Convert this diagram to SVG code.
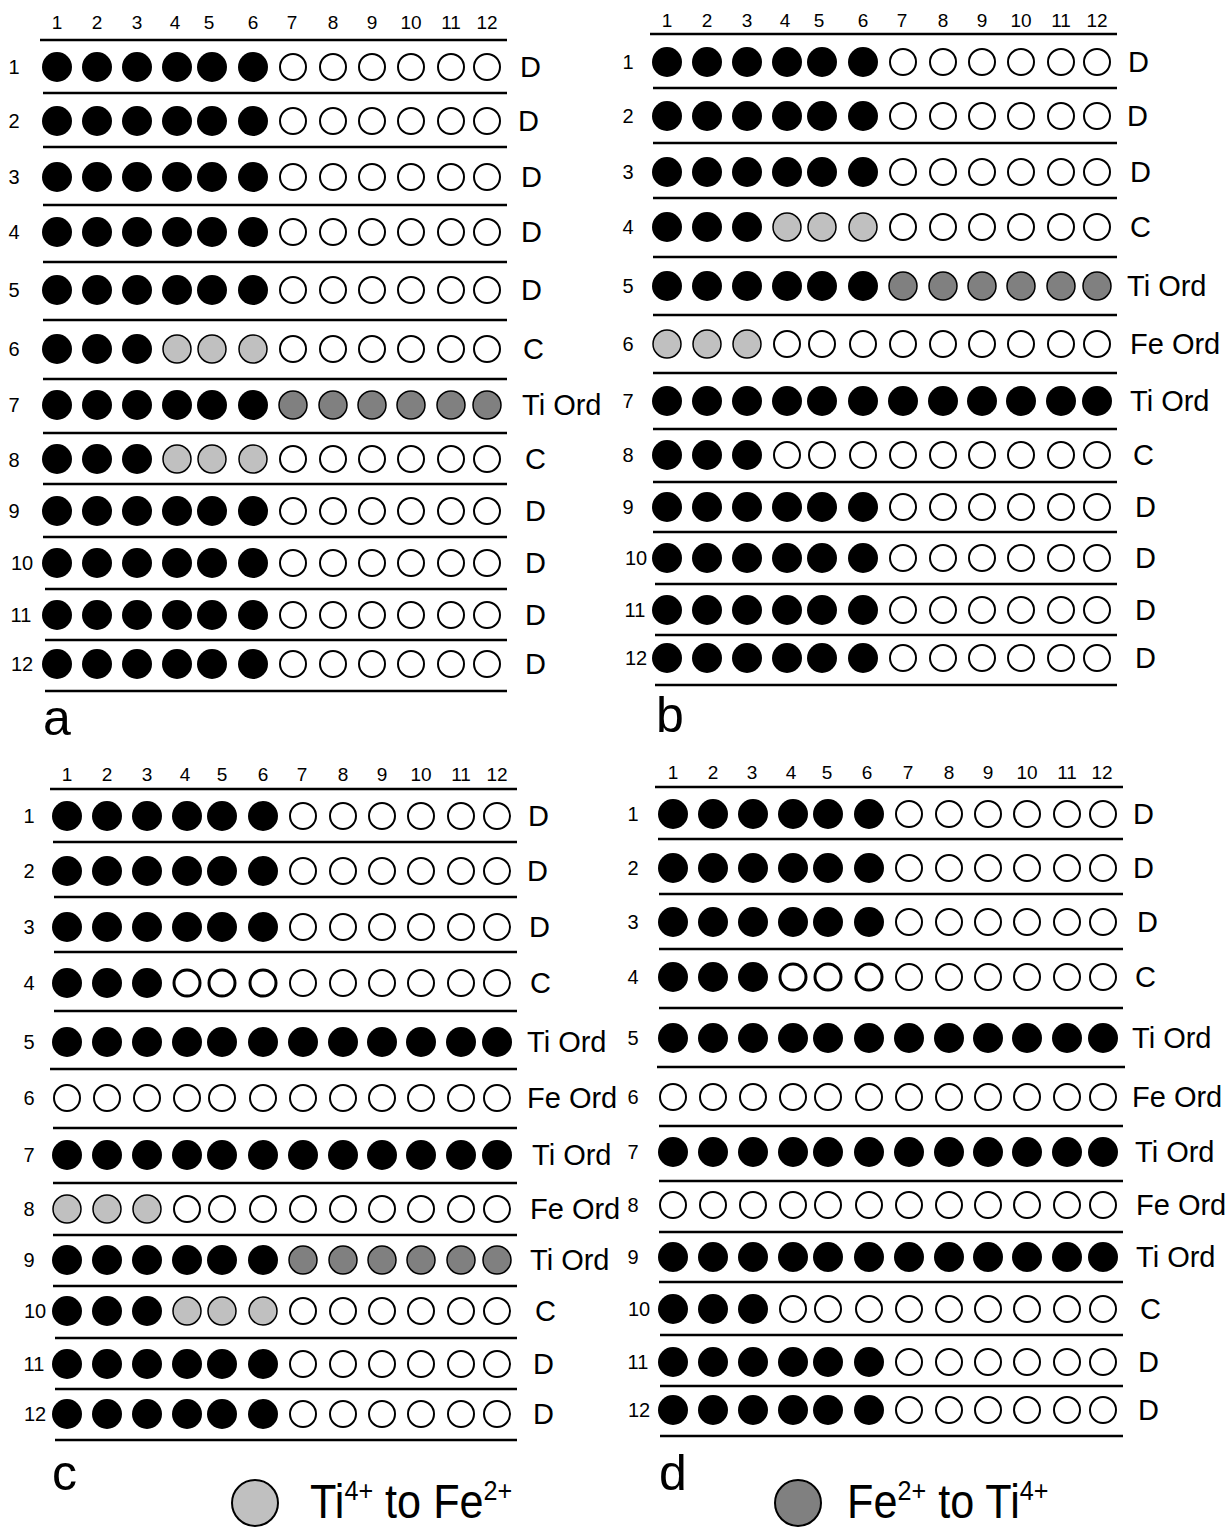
<svg xmlns="http://www.w3.org/2000/svg" xmlns:xlink="http://www.w3.org/1999/xlink" width="1228" height="1528" viewBox="0 0 1228 1528">
<style>
text{font-family:"Liberation Sans",Arial,sans-serif;fill:#000}
.hd{font-size:19px;text-anchor:middle}
.rn{font-size:20px;text-anchor:middle}
.lb{font-size:29px}
.pl{font-size:50px}
.lg{font-size:48px}
.ln{stroke:#000;stroke-width:2.5}
.b{fill:#000}
.w{fill:#fff;stroke:#000;stroke-width:2}
.l{fill:#c0c0c0;stroke:#000;stroke-width:1.5}
.g{fill:#808080;stroke:#000;stroke-width:1.5}
.t{fill:#fff;stroke:#000;stroke-width:3}
</style>
<defs>
<circle id="B" r="15" class="b"/>
<circle id="W" r="13" class="w"/>
<circle id="L" r="14" class="l"/>
<circle id="G" r="14" class="g"/>
<circle id="T" r="13" class="t"/>
<g id="rowD"><use href="#B" x="57"/><use href="#B" x="97"/><use href="#B" x="137"/><use href="#B" x="177"/><use href="#B" x="212"/><use href="#B" x="253"/><use href="#W" x="293"/><use href="#W" x="333"/><use href="#W" x="372"/><use href="#W" x="411"/><use href="#W" x="451"/><use href="#W" x="487"/></g>
<g id="rowC"><use href="#B" x="57"/><use href="#B" x="97"/><use href="#B" x="137"/><use href="#L" x="177"/><use href="#L" x="212"/><use href="#L" x="253"/><use href="#W" x="293"/><use href="#W" x="333"/><use href="#W" x="372"/><use href="#W" x="411"/><use href="#W" x="451"/><use href="#W" x="487"/></g>
<g id="rowTG"><use href="#B" x="57"/><use href="#B" x="97"/><use href="#B" x="137"/><use href="#B" x="177"/><use href="#B" x="212"/><use href="#B" x="253"/><use href="#G" x="293"/><use href="#G" x="333"/><use href="#G" x="372"/><use href="#G" x="411"/><use href="#G" x="451"/><use href="#G" x="487"/></g>
<g id="rowTB"><use href="#B" x="57"/><use href="#B" x="97"/><use href="#B" x="137"/><use href="#B" x="177"/><use href="#B" x="212"/><use href="#B" x="253"/><use href="#B" x="293"/><use href="#B" x="333"/><use href="#B" x="372"/><use href="#B" x="411"/><use href="#B" x="451"/><use href="#B" x="487"/></g>
<g id="rowFW"><use href="#W" x="57"/><use href="#W" x="97"/><use href="#W" x="137"/><use href="#W" x="177"/><use href="#W" x="212"/><use href="#W" x="253"/><use href="#W" x="293"/><use href="#W" x="333"/><use href="#W" x="372"/><use href="#W" x="411"/><use href="#W" x="451"/><use href="#W" x="487"/></g>
<g id="rowFL"><use href="#L" x="57"/><use href="#L" x="97"/><use href="#L" x="137"/><use href="#W" x="177"/><use href="#W" x="212"/><use href="#W" x="253"/><use href="#W" x="293"/><use href="#W" x="333"/><use href="#W" x="372"/><use href="#W" x="411"/><use href="#W" x="451"/><use href="#W" x="487"/></g>
<g id="rowC9"><use href="#B" x="57"/><use href="#B" x="97"/><use href="#B" x="137"/><use href="#W" x="177"/><use href="#W" x="212"/><use href="#W" x="253"/><use href="#W" x="293"/><use href="#W" x="333"/><use href="#W" x="372"/><use href="#W" x="411"/><use href="#W" x="451"/><use href="#W" x="487"/></g>
<g id="rowCT"><use href="#B" x="57"/><use href="#B" x="97"/><use href="#B" x="137"/><use href="#T" x="177"/><use href="#T" x="212"/><use href="#T" x="253"/><use href="#W" x="293"/><use href="#W" x="333"/><use href="#W" x="372"/><use href="#W" x="411"/><use href="#W" x="451"/><use href="#W" x="487"/></g>
</defs>
<rect width="1228" height="1528" fill="#fff"/>

<!-- Panel a -->
<g id="panel-a">
<g id="a-header">
<text class="hd" x="57" y="29">1</text><text class="hd" x="97" y="29">2</text><text class="hd" x="137" y="29">3</text><text class="hd" x="175" y="29">4</text><text class="hd" x="209" y="29">5</text><text class="hd" x="253" y="29">6</text><text class="hd" x="292" y="29">7</text><text class="hd" x="333" y="29">8</text><text class="hd" x="372" y="29">9</text><text class="hd" x="411" y="29">10</text><text class="hd" x="451" y="29">11</text><text class="hd" x="487" y="29">12</text>
</g>
<g id="a-lines">
<line class="ln" x1="40" y1="40" x2="507" y2="40"/>
<line class="ln" x1="43" y1="93" x2="507" y2="93"/>
<line class="ln" x1="43" y1="147" x2="507" y2="147"/>
<line class="ln" x1="43" y1="205" x2="507" y2="205"/>
<line class="ln" x1="43" y1="262" x2="507" y2="262"/>
<line class="ln" x1="43" y1="320" x2="507" y2="320"/>
<line class="ln" x1="43" y1="379" x2="507" y2="379"/>
<line class="ln" x1="43" y1="433" x2="507" y2="433"/>
<line class="ln" x1="43" y1="484" x2="507" y2="484"/>
<line class="ln" x1="43" y1="537" x2="507" y2="537"/>
<line class="ln" x1="45" y1="589" x2="507" y2="589"/>
<line class="ln" x1="45" y1="640" x2="507" y2="640"/>
<line class="ln" x1="45" y1="691" x2="507" y2="691"/>
</g>
<g id="a-r1"><text class="rn" x="14" y="74">1</text><use href="#rowD" y="67"/><text class="lb" x="520" y="77">D</text></g>
<g id="a-r2"><text class="rn" x="14" y="128">2</text><use href="#rowD" y="121"/><text class="lb" x="518" y="131">D</text></g>
<g id="a-r3"><text class="rn" x="14" y="184">3</text><use href="#rowD" y="177"/><text class="lb" x="521" y="187">D</text></g>
<g id="a-r4"><text class="rn" x="14" y="239">4</text><use href="#rowD" y="232"/><text class="lb" x="521" y="242">D</text></g>
<g id="a-r5"><text class="rn" x="14" y="297">5</text><use href="#rowD" y="290"/><text class="lb" x="521" y="300">D</text></g>
<g id="a-r6"><text class="rn" x="14" y="356">6</text><use href="#rowC" y="349"/><text class="lb" x="523" y="359">C</text></g>
<g id="a-r7"><text class="rn" x="14" y="412">7</text><use href="#rowTG" y="405"/><text class="lb" x="522" y="415">Ti Ord</text></g>
<g id="a-r8"><text class="rn" x="14" y="467">8</text><use href="#rowC" y="459"/><text class="lb" x="525" y="469">C</text></g>
<g id="a-r9"><text class="rn" x="14" y="518">9</text><use href="#rowD" y="511"/><text class="lb" x="525" y="521">D</text></g>
<g id="a-r10"><text class="rn" x="22" y="570">10</text><use href="#rowD" y="563"/><text class="lb" x="525" y="573">D</text></g>
<g id="a-r11"><text class="rn" x="21" y="622">11</text><use href="#rowD" y="615"/><text class="lb" x="525" y="625">D</text></g>
<g id="a-r12"><text class="rn" x="22" y="671">12</text><use href="#rowD" y="664"/><text class="lb" x="525" y="674">D</text></g>
<text class="pl" x="43" y="735">a</text>
</g>

<!-- Panel b -->
<g id="panel-b">
<g id="b-header">
<text class="hd" x="667" y="27">1</text><text class="hd" x="707" y="27">2</text><text class="hd" x="747" y="27">3</text><text class="hd" x="785" y="27">4</text><text class="hd" x="819" y="27">5</text><text class="hd" x="863" y="27">6</text><text class="hd" x="902" y="27">7</text><text class="hd" x="943" y="27">8</text><text class="hd" x="982" y="27">9</text><text class="hd" x="1021" y="27">10</text><text class="hd" x="1061" y="27">11</text><text class="hd" x="1097" y="27">12</text>
</g>
<g id="b-lines">
<line class="ln" x1="650" y1="34" x2="1117" y2="34"/>
<line class="ln" x1="653" y1="88" x2="1117" y2="88"/>
<line class="ln" x1="653" y1="143" x2="1117" y2="143"/>
<line class="ln" x1="653" y1="198" x2="1117" y2="198"/>
<line class="ln" x1="653" y1="257" x2="1117" y2="257"/>
<line class="ln" x1="653" y1="315" x2="1117" y2="315"/>
<line class="ln" x1="653" y1="373" x2="1117" y2="373"/>
<line class="ln" x1="653" y1="429" x2="1117" y2="429"/>
<line class="ln" x1="653" y1="482" x2="1117" y2="482"/>
<line class="ln" x1="653" y1="532" x2="1117" y2="532"/>
<line class="ln" x1="655" y1="584" x2="1117" y2="584"/>
<line class="ln" x1="655" y1="635" x2="1117" y2="635"/>
<line class="ln" x1="655" y1="685" x2="1117" y2="685"/>
</g>
<g id="b-r1"><text class="rn" x="628" y="69">1</text><use href="#rowD" x="610" y="62"/><text class="lb" x="1128" y="72">D</text></g>
<g id="b-r2"><text class="rn" x="628" y="123">2</text><use href="#rowD" x="610" y="116"/><text class="lb" x="1127" y="126">D</text></g>
<g id="b-r3"><text class="rn" x="628" y="179">3</text><use href="#rowD" x="610" y="172"/><text class="lb" x="1130" y="182">D</text></g>
<g id="b-r4"><text class="rn" x="628" y="234">4</text><use href="#rowC" x="610" y="227"/><text class="lb" x="1130" y="237">C</text></g>
<g id="b-r5"><text class="rn" x="628" y="293">5</text><use href="#rowTG" x="610" y="286"/><text class="lb" x="1127" y="296">Ti Ord</text></g>
<g id="b-r6"><text class="rn" x="628" y="351">6</text><use href="#rowFL" x="610" y="344"/><text class="lb" x="1130" y="354">Fe Ord</text></g>
<g id="b-r7"><text class="rn" x="628" y="408">7</text><use href="#rowTB" x="610" y="401"/><text class="lb" x="1130" y="411">Ti Ord</text></g>
<g id="b-r8"><text class="rn" x="628" y="462">8</text><use href="#rowC9" x="610" y="455"/><text class="lb" x="1133" y="465">C</text></g>
<g id="b-r9"><text class="rn" x="628" y="514">9</text><use href="#rowD" x="610" y="507"/><text class="lb" x="1135" y="517">D</text></g>
<g id="b-r10"><text class="rn" x="636" y="565">10</text><use href="#rowD" x="610" y="558"/><text class="lb" x="1135" y="568">D</text></g>
<g id="b-r11"><text class="rn" x="635" y="617">11</text><use href="#rowD" x="610" y="610"/><text class="lb" x="1135" y="620">D</text></g>
<g id="b-r12"><text class="rn" x="636" y="665">12</text><use href="#rowD" x="610" y="658"/><text class="lb" x="1135" y="668">D</text></g>
<text class="pl" x="656" y="732">b</text>
</g>

<!-- Panel c -->
<g id="panel-c">
<g id="c-header">
<text class="hd" x="67" y="781">1</text><text class="hd" x="107" y="781">2</text><text class="hd" x="147" y="781">3</text><text class="hd" x="185" y="781">4</text><text class="hd" x="222" y="781">5</text><text class="hd" x="263" y="781">6</text><text class="hd" x="302" y="781">7</text><text class="hd" x="343" y="781">8</text><text class="hd" x="382" y="781">9</text><text class="hd" x="421" y="781">10</text><text class="hd" x="461" y="781">11</text><text class="hd" x="497" y="781">12</text>
</g>
<g id="c-lines">
<line class="ln" x1="50" y1="789" x2="517" y2="789"/>
<line class="ln" x1="53" y1="842" x2="517" y2="842"/>
<line class="ln" x1="54" y1="897" x2="517" y2="897"/>
<line class="ln" x1="54" y1="952" x2="517" y2="952"/>
<line class="ln" x1="54" y1="1011" x2="517" y2="1011"/>
<line class="ln" x1="50" y1="1069" x2="517" y2="1069"/>
<line class="ln" x1="53" y1="1128" x2="517" y2="1128"/>
<line class="ln" x1="53" y1="1183" x2="517" y2="1183"/>
<line class="ln" x1="53" y1="1235" x2="517" y2="1235"/>
<line class="ln" x1="53" y1="1286" x2="517" y2="1286"/>
<line class="ln" x1="55" y1="1338" x2="517" y2="1338"/>
<line class="ln" x1="55" y1="1389" x2="517" y2="1389"/>
<line class="ln" x1="55" y1="1440" x2="517" y2="1440"/>
</g>
<g id="c-r1"><text class="rn" x="29" y="823">1</text><use href="#rowD" x="10" y="816"/><text class="lb" x="528" y="826">D</text></g>
<g id="c-r2"><text class="rn" x="29" y="878">2</text><use href="#rowD" x="10" y="871"/><text class="lb" x="527" y="881">D</text></g>
<g id="c-r3"><text class="rn" x="29" y="934">3</text><use href="#rowD" x="10" y="927"/><text class="lb" x="529" y="937">D</text></g>
<g id="c-r4"><text class="rn" x="29" y="990">4</text><use href="#rowCT" x="10" y="983"/><text class="lb" x="530" y="993">C</text></g>
<g id="c-r5"><text class="rn" x="29" y="1049">5</text><use href="#rowTB" x="10" y="1042"/><text class="lb" x="527" y="1052">Ti Ord</text></g>
<g id="c-r6"><text class="rn" x="29" y="1105">6</text><use href="#rowFW" x="10" y="1098"/><text class="lb" x="527" y="1108">Fe Ord</text></g>
<g id="c-r7"><text class="rn" x="29" y="1162">7</text><use href="#rowTB" x="10" y="1155"/><text class="lb" x="532" y="1165">Ti Ord</text></g>
<g id="c-r8"><text class="rn" x="29" y="1216">8</text><use href="#rowFL" x="10" y="1209"/><text class="lb" x="530" y="1219">Fe Ord</text></g>
<g id="c-r9"><text class="rn" x="29" y="1267">9</text><use href="#rowTG" x="10" y="1260"/><text class="lb" x="530" y="1270">Ti Ord</text></g>
<g id="c-r10"><text class="rn" x="35" y="1318">10</text><use href="#rowC" x="10" y="1311"/><text class="lb" x="535" y="1321">C</text></g>
<g id="c-r11"><text class="rn" x="34" y="1371">11</text><use href="#rowD" x="10" y="1364"/><text class="lb" x="533" y="1374">D</text></g>
<g id="c-r12"><text class="rn" x="35" y="1421">12</text><use href="#rowD" x="10" y="1414"/><text class="lb" x="533" y="1424">D</text></g>
<text class="pl" x="52" y="1490">c</text>
</g>

<!-- Panel d -->
<g id="panel-d">
<g id="d-header">
<text class="hd" x="673" y="779">1</text><text class="hd" x="713" y="779">2</text><text class="hd" x="752" y="779">3</text><text class="hd" x="791" y="779">4</text><text class="hd" x="827" y="779">5</text><text class="hd" x="867" y="779">6</text><text class="hd" x="908" y="779">7</text><text class="hd" x="949" y="779">8</text><text class="hd" x="988" y="779">9</text><text class="hd" x="1027" y="779">10</text><text class="hd" x="1067" y="779">11</text><text class="hd" x="1102" y="779">12</text>
</g>
<g id="d-lines">
<line class="ln" x1="655" y1="787" x2="1123" y2="787"/>
<line class="ln" x1="658" y1="839" x2="1123" y2="839"/>
<line class="ln" x1="659" y1="894" x2="1123" y2="894"/>
<line class="ln" x1="659" y1="949" x2="1123" y2="949"/>
<line class="ln" x1="659" y1="1008" x2="1123" y2="1008"/>
<line class="ln" x1="657" y1="1067" x2="1125" y2="1067"/>
<line class="ln" x1="659" y1="1126" x2="1123" y2="1126"/>
<line class="ln" x1="659" y1="1181" x2="1123" y2="1181"/>
<line class="ln" x1="659" y1="1232" x2="1123" y2="1232"/>
<line class="ln" x1="659" y1="1282" x2="1123" y2="1282"/>
<line class="ln" x1="660" y1="1335" x2="1123" y2="1335"/>
<line class="ln" x1="660" y1="1386" x2="1123" y2="1386"/>
<line class="ln" x1="660" y1="1436" x2="1123" y2="1436"/>
</g>
<g id="d-r1"><text class="rn" x="633" y="821">1</text><use href="#rowD" x="616" y="814"/><text class="lb" x="1133" y="824">D</text></g>
<g id="d-r2"><text class="rn" x="633" y="875">2</text><use href="#rowD" x="616" y="868"/><text class="lb" x="1133" y="878">D</text></g>
<g id="d-r3"><text class="rn" x="633" y="929">3</text><use href="#rowD" x="616" y="922"/><text class="lb" x="1137" y="932">D</text></g>
<g id="d-r4"><text class="rn" x="633" y="984">4</text><use href="#rowCT" x="616" y="977"/><text class="lb" x="1135" y="987">C</text></g>
<g id="d-r5"><text class="rn" x="633" y="1045">5</text><use href="#rowTB" x="616" y="1038"/><text class="lb" x="1132" y="1048">Ti Ord</text></g>
<g id="d-r6"><text class="rn" x="633" y="1104">6</text><use href="#rowFW" x="616" y="1097"/><text class="lb" x="1132" y="1107">Fe Ord</text></g>
<g id="d-r7"><text class="rn" x="633" y="1159">7</text><use href="#rowTB" x="616" y="1152"/><text class="lb" x="1135" y="1162">Ti Ord</text></g>
<g id="d-r8"><text class="rn" x="633" y="1212">8</text><use href="#rowFW" x="616" y="1205"/><text class="lb" x="1136" y="1215">Fe Ord</text></g>
<g id="d-r9"><text class="rn" x="633" y="1264">9</text><use href="#rowTB" x="616" y="1257"/><text class="lb" x="1136" y="1267">Ti Ord</text></g>
<g id="d-r10"><text class="rn" x="639" y="1316">10</text><use href="#rowC9" x="616" y="1309"/><text class="lb" x="1140" y="1319">C</text></g>
<g id="d-r11"><text class="rn" x="638" y="1369">11</text><use href="#rowD" x="616" y="1362"/><text class="lb" x="1138" y="1372">D</text></g>
<g id="d-r12"><text class="rn" x="639" y="1417">12</text><use href="#rowD" x="616" y="1410"/><text class="lb" x="1138" y="1420">D</text></g>
<text class="pl" x="659" y="1490">d</text>
</g>

<!-- Legend -->
<g id="legend-ti-fe">
<circle cx="255" cy="1503" r="23" fill="#c0c0c0" stroke="#000" stroke-width="2"/>
<text class="lg" transform="translate(310,1518) scale(0.9,1)">Ti<tspan font-size="28" dy="-18">4+</tspan><tspan dy="18"> to Fe</tspan><tspan font-size="28" dy="-18">2+</tspan></text>
</g>
<g id="legend-fe-ti">
<circle cx="798" cy="1503" r="23" fill="#808080" stroke="#000" stroke-width="2"/>
<text class="lg" transform="translate(847,1518) scale(0.9,1)">Fe<tspan font-size="28" dy="-18">2+</tspan><tspan dy="18"> to Ti</tspan><tspan font-size="28" dy="-18">4+</tspan></text>
</g>
</svg>
